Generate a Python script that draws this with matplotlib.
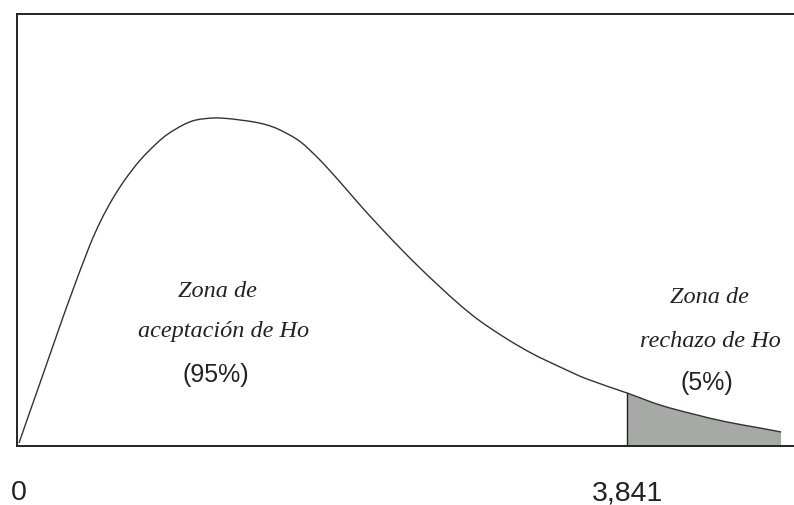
import matplotlib
matplotlib.use("Agg")
import matplotlib.pyplot as plt
from matplotlib.path import Path
from matplotlib.patches import PathPatch
import numpy as np

# Chi-square style density curve (x in statistic units, y in density units)
curve_x = [0.000, 0.066, 0.146, 0.243, 0.324, 0.443, 0.516, 0.587, 0.668, 0.766,
           0.872, 0.941, 1.036, 1.118, 1.226, 1.314, 1.396, 1.485, 1.567, 1.649,
           1.775, 1.901, 2.028, 2.154, 2.281, 2.407, 2.533, 2.660, 2.786, 2.912,
           3.083, 3.247, 3.418, 3.588, 3.841, 4.049, 4.258, 4.473, 4.681, 4.814]
curve_y = [0.003, 0.033, 0.069, 0.113, 0.149, 0.199, 0.225, 0.246, 0.266, 0.286,
           0.303, 0.312, 0.321, 0.326, 0.328, 0.3275, 0.326, 0.324, 0.321, 0.316,
           0.3045, 0.286, 0.264, 0.241, 0.219, 0.198, 0.178, 0.159, 0.141, 0.125,
           0.107, 0.092, 0.079, 0.067, 0.053, 0.041, 0.032, 0.024, 0.018, 0.014]

critical_value = 3.841
tick_values = [0, critical_value]
tick_labels = ["0", "3,841"]

accept_lines = ["Zona de", "aceptación de Ho"]
accept_pct = "(95%)"
reject_lines = ["Zona de", "rechazo de Ho"]
reject_pct = "(5%)"

W, H = 794, 505
fig = plt.figure(figsize=(W / 100, H / 100), dpi=100)
fig.patch.set_facecolor("white")

ax_left, ax_bottom, ax_top = 17, 446, 14
ax = fig.add_axes([ax_left / W, (H - ax_bottom) / H, (W - ax_left) / W, (ax_bottom - ax_top) / H])

px_per_x = 158.3
px_per_y = 1000.0
ax.set_xlim(-2 / px_per_x, (W - 19) / px_per_x)
ax.set_ylim(0, (ax_bottom - ax_top) / px_per_y)


def smooth_path_vertices(xs, ys):
    """Catmull-Rom curve through the points, expressed as cubic Bezier segments."""
    pts = np.column_stack([xs, ys])
    n = len(pts)
    verts = [pts[0]]
    codes = [Path.MOVETO]
    for i in range(n - 1):
        p0 = pts[max(i - 1, 0)]
        p1 = pts[i]
        p2 = pts[i + 1]
        p3 = pts[min(i + 2, n - 1)]
        c1 = p1 + (p2 - p0) / 6.0
        c2 = p2 - (p3 - p1) / 6.0
        verts += [c1, c2, p2]
        codes += [Path.CURVE4] * 3
    return verts, codes


cx = np.array(curve_x)
cy = np.array(curve_y)

# Rejection region shading under the tail of the curve
mask = cx >= critical_value
tv, tc = smooth_path_vertices(cx[mask], cy[mask])
tail_verts = tv + [np.array([cx[mask][-1], 0.0]), np.array([critical_value, 0.0]), tv[0]]
tail_codes = tc + [Path.LINETO, Path.LINETO, Path.CLOSEPOLY]
ax.add_patch(PathPatch(Path(tail_verts, tail_codes), facecolor="#a6a9a6", edgecolor="none", zorder=1))
ax.plot([critical_value, critical_value], [0, cy[mask][0]], color="#222222", lw=1.0, zorder=2)

# Full density curve
v, c = smooth_path_vertices(cx, cy)
ax.add_patch(PathPatch(Path(v, c), facecolor="none", edgecolor="#333333", lw=1.0, zorder=3))

for side in ["left", "top", "bottom"]:
    ax.spines[side].set_color("#222222")
    ax.spines[side].set_linewidth(1.4)
ax.spines["right"].set_visible(False)
ax.set_xticks([])
ax.set_yticks([])

sans_family = ["Liberation Sans", "DejaVu Sans"]
for val, lab in zip(tick_values, tick_labels):
    ax.annotate(lab, xy=(val, 5), xycoords=("data", "figure pixels"),
                ha="center", va="baseline", family=sans_family, fontsize=20.5,
                color="#222222", annotation_clip=False)

serif = dict(family=["Liberation Serif"], style="italic", fontsize=17.5, color="#222222",
             ha="center", va="baseline")
sans = dict(family=sans_family, fontsize=18, color="#222222",
            ha="center", va="baseline")


def to_data(px, py):
    return (px - 19) / px_per_x, (ax_bottom - py) / px_per_y


x, y = to_data(217, 297)
ax.text(x, y, accept_lines[0], **serif)
x, y = to_data(224, 337)
ax.text(x, y, accept_lines[1], **serif)
x, y = to_data(216, 382)
ax.text(x, y, accept_pct, **sans)

x, y = to_data(709, 303)
ax.text(x, y, reject_lines[0], **serif)
x, y = to_data(710, 347)
ax.text(x, y, reject_lines[1], **serif)
x, y = to_data(707, 390)
ax.text(x, y, reject_pct, **sans)

fig.savefig("out.png", dpi=100, facecolor="white")
